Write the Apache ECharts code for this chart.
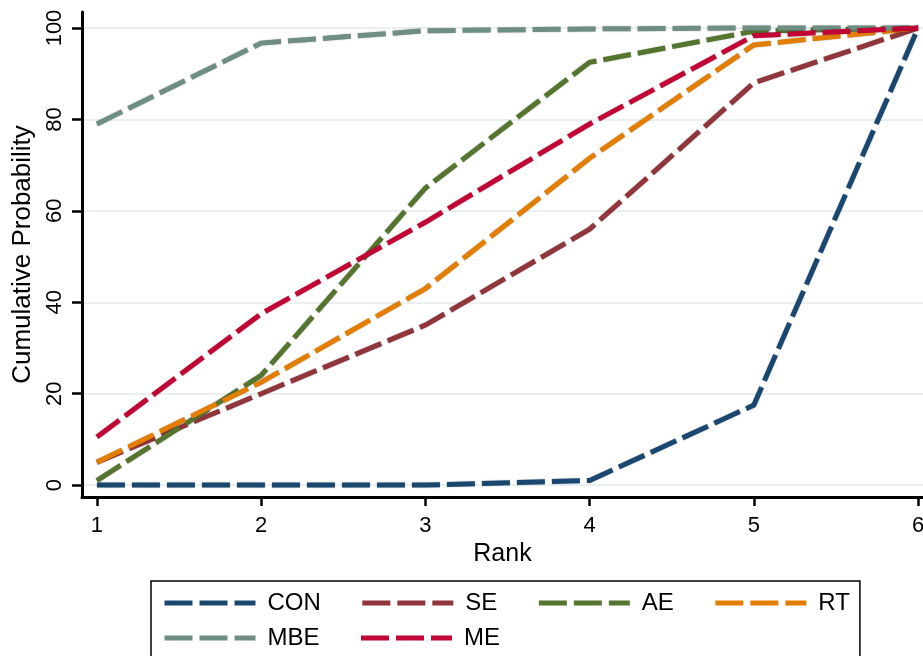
<!DOCTYPE html>
<html>
<head>
<meta charset="utf-8">
<title>Cumulative Probability</title>
<script src="https://cdn.jsdelivr.net/npm/echarts@6/dist/echarts.min.js"></script>
<style>
  html, body { margin: 0; padding: 0; background: #fff; }
  #main { width: 923px; height: 656px; }
</style>
</head>
<body>
<div id="main"></div>
<script>
// x 轴 rank
const ranks = [1, 2, 3, 4, 5, 6]
const yTicks = [0, 20, 40, 60, 80, 100]

// 每条线的累计概率
const CON = [0, 0, 0, 1, 17.5, 100]
const SE = [5, 20, 35, 56, 88, 100]
const AE = [1, 24, 65, 92.5, 99.3, 100]
const RT = [5, 22.5, 43, 71.5, 96.3, 100]
const MBE = [79, 96.7, 99.4, 99.8, 100, 100]
const ME = [10.5, 37.5, 57.5, 79, 98.3, 100]

const seriesNames = ['CON', 'SE', 'AE', 'RT', 'MBE', 'ME']
const seriesValues = [CON, SE, AE, RT, MBE, ME]
// stata s2color
const colorArr = ['#1a476f', '#90353b', '#55752f', '#e37e00', '#6e8e84', '#c10534']

const font = 'Liberation Sans, Arial, sans-serif'
const dash = [28, 7]

const chartInstance = echarts.init(document.getElementById('main'), null, { renderer: 'canvas' })

const seriesArr = seriesValues.map((values, index) => {
    return {
        name: seriesNames[index],
        type: 'line',
        data: values.map((v, i) => [ranks[i], v]),
        symbol: 'none',
        showSymbol: false,
        silent: true,
        animation: false,
        lineStyle: {
            color: colorArr[index],
            width: 5,
            type: dash,
            cap: 'butt',
            join: 'miter',
            shadowColor: 'rgba(0,0,0,0.35)',
            shadowBlur: 1.5
        },
        itemStyle: { color: colorArr[index] }
    }
})

// 图例公共样式
const legendBase = {
    orient: 'horizontal',
    itemGap: 39,
    itemWidth: 91,
    itemHeight: 6,
    selectedMode: false,
    itemStyle: { color: 'rgba(0,0,0,0)', borderWidth: 0, opacity: 0 },
    lineStyle: { width: 5, type: dash, cap: 'butt' },
    textStyle: {
        color: '#000',
        fontFamily: font,
        fontSize: 24,
        lineHeight: 26,
        padding: [0, 0, 0, 7]
    }
}

const option = {
    backgroundColor: '#fff',
    animation: false,
    grid: {
        left: 82,
        right: 0,
        top: 12,
        bottom: 159,
        containLabel: false,
        outerBoundsMode: 'none'
    },
    xAxis: {
        type: 'value',
        min: 0.909,
        max: 6.03,
        name: 'Rank',
        nameLocation: 'middle',
        nameGap: 44,
        nameTextStyle: { color: '#000', fontFamily: font, fontSize: 25 },
        axisLine: { show: true, onZero: false, lineStyle: { color: '#000', width: 3 } },
        axisTick: { show: true, customValues: ranks, length: 9, lineStyle: { color: '#000', width: 2.5 } },
        axisLabel: { customValues: ranks, color: '#000', fontFamily: font, fontSize: 22, margin: 18 },
        splitLine: { show: false }
    },
    yAxis: {
        type: 'value',
        min: -2.6,
        max: 103.5,
        name: 'Cumulative Probability',
        nameLocation: 'middle',
        nameRotate: 90,
        nameGap: 46,
        nameTextStyle: { color: '#000', fontFamily: font, fontSize: 26 },
        axisLine: { show: true, lineStyle: { color: '#000', width: 3 } },
        axisTick: { show: true, customValues: yTicks, length: 10, lineStyle: { color: '#000', width: 2.5 } },
        axisLabel: { customValues: yTicks, rotate: 90, color: '#000', fontFamily: font, fontSize: 22, margin: 16 },
        splitLine: { show: true, lineStyle: { color: '#e3eaeb', width: 1.5 } }
    },
    // 图例分两行, 第一行带外框
    legend: [
        Object.assign({}, legendBase, {
            data: ['CON', 'SE', 'AE', 'RT'],
            left: 151,
            top: 581,
            padding: [9, 10, 60, 11],
            borderColor: '#000',
            borderWidth: 1.5,
            borderRadius: 0
        }),
        Object.assign({}, legendBase, {
            data: ['MBE', 'ME'],
            left: 162,
            top: 625,
            padding: 0
        })
    ],
    series: seriesArr
}

chartInstance.setOption(option)
</script>
</body>
</html>
